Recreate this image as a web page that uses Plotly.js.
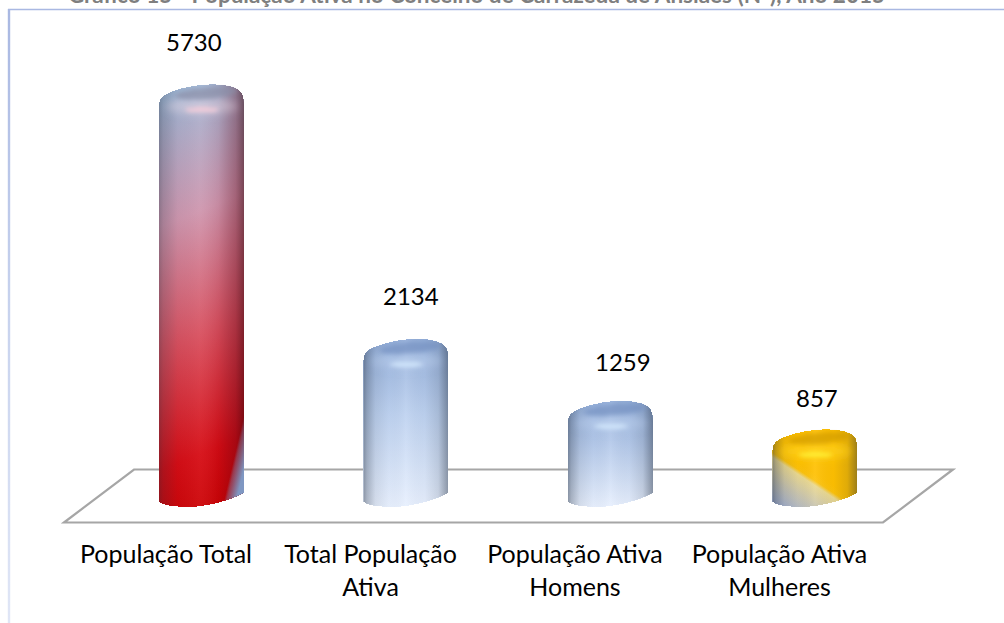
<!DOCTYPE html>
<html><head><meta charset="utf-8">
<script src="https://cdn.plot.ly/plotly-3.0.0.min.js"></script>
<style>html,body{margin:0;padding:0;background:#fff}#c{width:1004px;height:623px}</style>
</head><body><div id="c"></div>
<script>
const categories = ["População Total", "Total População<br>Ativa", "População Ativa<br>Homens", "População Ativa<br>Mulheres"];
const values = [5730, 2134, 1259, 857];
const barColors = ["#c00000", "#a9bfe3", "#a9bfe3", "#ffc000"];
const labelLift = [43, 43, 39, 32];
const labelNudge = [-7, 5, 13, 2];
const tickNudge = -0.1736;
const chartTitle = "Gráfico 15 - População Ativa no Concelho de Carrazeda de Ansiães (Nº), Ano 2015";

const W = 1004, H = 623, mb = 93, plotH = H - mb;
const px = x => x / W, py = y => 1 - y / plotH;
const floorPath = [[64,522.5],[134,469.5],[953,469.5],[883,522.5]]
  .map((p,i)=>(i?"L":"M")+px(p[0])+" "+py(p[1])).join(" ")+" Z";
const font = '"Lato", "Open Sans", sans-serif';

const layout = {
  width: W, height: H, showlegend: false, paper_bgcolor: "#fff", plot_bgcolor: "rgba(0,0,0,0)",
  margin: {l:0, r:0, t:0, b:mb, pad:0}, font: {family: font, color:"#000"},
  title: {text: chartTitle, font:{family:font, size:22.5, color:"#7f7f7f", weight:700}, x:0.4746, xanchor:"center", xref:"paper", y:0.9955, yanchor:"bottom"},
  bargap: 0,
  xaxis: {range:[-0.9853,3.9243], tickmode:"array", tickvals:[0,1,2,3].map(i=>i+tickNudge), ticktext:categories, ticks:"", ticklabelstandoff:7, showgrid:false, zeroline:false, showline:false, tickfont:{family:font,size:25,color:"#000"}, fixedrange:true},
  yaxis: {range:[-565,6921], visible:false, showgrid:false, zeroline:false, fixedrange:true},
  shapes: [
    {type:"path", layer:"below", xref:"paper", yref:"paper", path:floorPath, line:{color:"#a6a6a6", width:2.2}, fillcolor:"#fff"},
    {type:"line", layer:"below", xref:"paper", yref:"paper", x0:px(8), x1:1, y0:py(9.5), y1:py(9.5), line:{color:"#a9b8e2", width:1.5}},
    {type:"line", layer:"below", xref:"paper", yref:"paper", x0:px(9), x1:px(9), y0:py(9), y1:py(623), line:{color:"#c4cfec", width:2.4}}
  ],
  annotations: values.map((v,i)=>({x:i, y:v, xref:"x", yref:"y", text:String(v), showarrow:false, yanchor:"middle", yshift:labelLift[i], xshift:labelNudge[i], font:{family:font,size:24,color:"#000"}}))
};
const data = [{type:"bar", x:[0,1,2,3], y:values, width:0.4157, marker:{color:barColors, line:{width:0}}, hoverinfo:"skip", textposition:"none"}];

const NS = "http://www.w3.org/2000/svg";
function el(n,a,p){const e=document.createElementNS(NS,n);for(const k in a)e.setAttribute(k,a[k]);if(p)p.appendChild(e);return e;}
function grad(defs,id,stops,attr){const g=el("linearGradient",Object.assign({id},attr),defs);
  stops.forEach(s=>el("stop",{offset:s[0],"stop-color":s[1],"stop-opacity":s[2]===undefined?1:s[2]},g));return g;}
function silhouette(L,R,T,B){const a=(x,y)=>x+","+y;
  return "M"+a(L,T+21)+"C"+a(L,T+14)+" "+a(L+4,T+11)+" "+a(L+11,T+8)+
    "C"+a(L+26,T+2)+" "+a(L+42,T)+" "+a(L+54,T)+"C"+a(L+68,T)+" "+a(L+80,T+3)+" "+a(L+83,T+9)+
    "C"+a(L+85,T+13)+" "+a(L+85,T+17)+" "+a(L+85,T+21)+"L"+a(R,B+3)+
    "C"+a(R-18,B+13)+" "+a(R-45,B+17)+" "+a(L+31,B+17)+"C"+a(L+15,B+17)+" "+a(L+2,B+15)+" "+a(L,B+11.7)+"Z";}

Plotly.newPlot("c", data, layout, {staticPlot:true, displayModeBar:false}).then(gd=>{
  const svg = gd.querySelector(".main-svg");
  const defs = el("defs",{},svg);
  const mk=(id,sd)=>{const f=el("filter",{id,x:"-40%",y:"-100%",width:"180%",height:"300%"},defs);el("feGaussianBlur",{stdDeviation:sd},f);};
  mk("soft","2"); mk("soft4","4");
  grad(defs,"shade",[[0,"#1f2a3a",.45],[.04,"#1f2a3a",.3],[.14,"#1f2a3a",.1],[.3,"#1f2a3a",.02],[.5,"#fff",.08],[.72,"#1f2a3a",.03],[.88,"#1f2a3a",.14],[1,"#1f2a3a",.45]],{x1:0,y1:0,x2:1,y2:0});
  grad(defs,"shadeRed",[[0,"#1f2a3a",.35],[.05,"#1f2a3a",.22],[.22,"#1f2a3a",.04],[.48,"#fff",.05],[.7,"#500010",.08],[.9,"#500010",.34],[1,"#300008",.55]],{x1:0,y1:0,x2:1,y2:0});
  grad(defs,"base0",[[0,"#a0b6d4"],[.28,"#cf96ae"],[.55,"#d8505f"],[.82,"#d60c14"],[1,"#c80000"]],{gradientUnits:"userSpaceOnUse",x1:135,y1:110,x2:290,y2:500});
  grad(defs,"corner",[[0,"#7f97c2",0],[.15,"#7f97c2",.35],[.7,"#7f97c2",1]],{gradientUnits:"userSpaceOnUse",x1:233,y1:462,x2:250,y2:466});
  grad(defs,"base1",[[0,"#94afda"],[.45,"#bed2f0"],[1,"#e8f0fe"]],{x1:0,y1:0,x2:0,y2:1});
  grad(defs,"base2",[[0,"#94afda"],[.4,"#b4c9ea"],[1,"#e8f0fe"]],{x1:0,y1:0,x2:0,y2:1});
  grad(defs,"base3",[[0,"#9fb0d8"],[.45,"#c8c4b0"],[.8,"#ead88f"],[.88,"#fdc20a"],[1,"#ffc000"]],{gradientUnits:"userSpaceOnUse",x1:772,y1:505,x2:799.6,y2:463.3});
  grad(defs,"frameFade",[[0,"#a9b8e2"],[.5,"#c8d3ee"],[1,"#e0e6f6"]],{gradientUnits:"userSpaceOnUse",x1:0,y1:9,x2:0,y2:623});
  const frame = gd.querySelectorAll(".shapelayer path");
  if(frame[2]) frame[2].style.stroke="url(#frameFade)";
  const tops = [["#8a8ea8","#f2ccd9"],["#7592c2","#cfe4fa"],["#7592c2","#cfe4fa"],["#d29c00","#ffee30"]];
  const bands = ["#f2dfe8","#c4d8f2","#c4d8f2","#ffd21a"];
  gd.querySelectorAll(".barlayer .point path").forEach((p,i)=>{
    const b = p.getBBox(), L=b.x, R=b.x+b.width, T=b.y, B=b.y+b.height, g=p.parentNode;
    const d = silhouette(L,R,T,B);
    const cid="clipbar"+i, cp=el("clipPath",{id:cid},defs); el("path",{d},cp);
    p.setAttribute("d",d); p.style.fill="url(#base"+i+")";
    const o=el("g",{"clip-path":"url(#"+cid+")"},g);
    el("path",{d,fill:i===0?"url(#shadeRed)":"url(#shade)"},o);
    if(i===0) el("path",{d,fill:"url(#corner)"},o);
    el("ellipse",{cx:L+43,cy:T+22,rx:36,ry:8,fill:bands[i],"fill-opacity":i===3?.7:.4,filter:"url(#soft4)"},o);
    const cx=L+47, ccy=T+9;
    el("ellipse",{cx,cy:ccy,rx:31,ry:5.5,transform:"rotate(-5 "+cx+" "+ccy+")",fill:tops[i][0],"fill-opacity":.7,filter:"url(#soft)"},o);
    el("ellipse",{cx:L+43,cy:T+25.5,rx:17,ry:2.6,fill:tops[i][1],"fill-opacity":1,filter:"url(#soft)"},o);
  });
})
</script></body></html>
